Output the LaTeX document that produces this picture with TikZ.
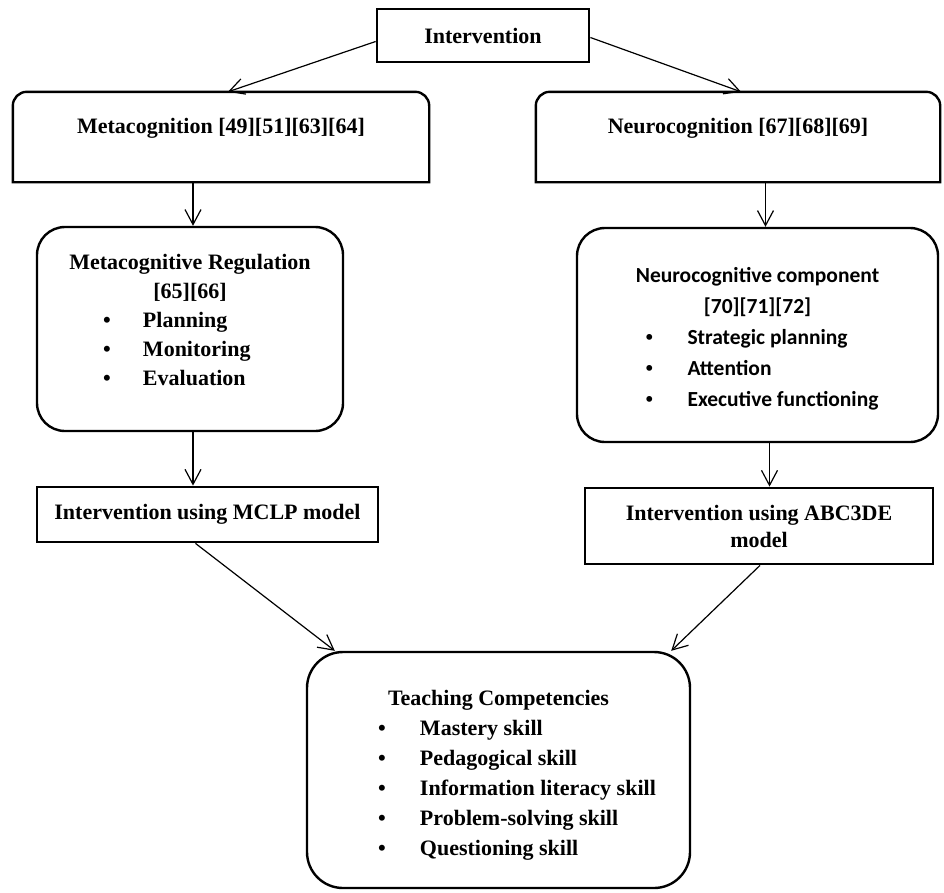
\documentclass[tikz,border=0pt]{standalone}
\usepackage{fontspec}
\setmainfont{Liberation Serif}
\newfontfamily\calib{Carlito}
\usetikzlibrary{arrows.meta}
\newcommand{\shiftup}[2]{\raisebox{#1}[\height][\depth]{#2}}
\newcommand{\bul}[3]{\makebox[#1][l]{\makebox[#2][l]{{\rmfamily\textbullet}}#3}}
\begin{document}
\begin{tikzpicture}[x=1pt,y=1pt,
  rectbox/.style={draw, line width=2.8pt, inner sep=0pt},
  rbox/.style={draw, line width=2.4pt, rounded corners=#1, inner sep=0pt},
  topline/.style={line width=2.4pt},
  arr/.style={line width=1.2pt, -{Straight Barb[length=15pt,width=16pt]}},
  tnr/.style={font=\fontsize{22}{29}\selectfont\bfseries},
]
\useasboundingbox (0,0) rectangle (944,-892);

% top
\node[rectbox, tnr, minimum width=212pt, minimum height=53pt] (intv) at (483,-35.5) {Intervention};

\node[tnr, minimum width=416pt, minimum height=90pt, inner sep=0pt] (meta) at (221,-137) {\shiftup{9pt}{Metacognition [49][51][63][64]}};
\draw[topline] (meta.south west) -- ([yshift=-14pt]meta.north west) arc[start angle=180,end angle=90,radius=14pt] -- ([xshift=-14pt]meta.north east) arc[start angle=90,end angle=0,radius=14pt] -- (meta.south east) -- cycle;

\node[tnr, minimum width=404pt, minimum height=90pt, inner sep=0pt] (neuro) at (738,-137) {\shiftup{9pt}{Neurocognition [67][68][69]}};
\draw[topline] (neuro.south west) -- ([yshift=-14pt]neuro.north west) arc[start angle=180,end angle=90,radius=14pt] -- ([xshift=-14pt]neuro.north east) arc[start angle=90,end angle=0,radius=14pt] -- (neuro.south east) -- cycle;

% middle
\node[rbox=28pt, tnr, minimum width=306pt, minimum height=204pt] (metareg) at (190,-329) {\shiftup{7pt}{\begin{tabular}{@{}c@{}}Metacognitive Regulation\\ {[65][66]}\\ \bul{174pt}{40pt}{Planning}\\ \bul{174pt}{40pt}{Monitoring}\\ \bul{174pt}{40pt}{Evaluation}\end{tabular}}};

\node[rbox=28pt, font=\calib\fontsize{21.5}{31}\selectfont\bfseries, minimum width=361pt, minimum height=214pt] (ncomp) at (757.5,-335) {\shiftup{-3pt}{\begin{tabular}{@{}c@{}}Neurocognitive component\\ {[70][71][72]}\\ \bul{224pt}{42pt}{Strategic planning}\\ \bul{224pt}{42pt}{Attention}\\ \bul{224pt}{42pt}{Executive functioning}\end{tabular}}};

\node[rectbox, tnr, minimum width=341pt, minimum height=55pt] (mclp) at (207.5,-514.5) {Intervention using MCLP model};
\node[rectbox, font=\fontsize{22}{27}\selectfont\bfseries, align=center, minimum width=348pt, minimum height=76pt] (abc) at (759,-526) {Intervention using ABC3DE\\model};

% bottom
\node[rbox=36pt, font=\fontsize{22}{30}\selectfont\bfseries, minimum width=383pt, minimum height=236pt] (teach) at (498.5,-770) {\shiftup{-4pt}{\begin{tabular}{@{}c@{}}Teaching Competencies\\ \bul{241pt}{42pt}{Mastery skill}\\ \bul{241pt}{42pt}{Pedagogical skill}\\ \bul{241pt}{42pt}{Information literacy skill}\\ \bul{241pt}{42pt}{Problem-solving skill}\\ \bul{241pt}{42pt}{Questioning skill}\end{tabular}}};

% connectors
\draw[arr] ([yshift=-6pt]intv.west) -- ([xshift=7pt]meta.north);
\draw[arr] ([yshift=-2pt]intv.east) -- ([xshift=3pt]neuro.north);
\draw[arr] ([xshift=3pt]metareg.north |- meta.south) -- ([xshift=3pt]metareg.north);
\draw[arr] ([xshift=8pt]ncomp.north |- neuro.south) -- ([xshift=8pt]ncomp.north);
\draw[arr] ([xshift=3pt]metareg.south) -- ([xshift=3pt]metareg.south |- mclp.north);
\draw[arr] ([xshift=12pt]ncomp.south) -- ([xshift=12pt]ncomp.south |- abc.north);
\draw[arr] ([xshift=-12pt]mclp.south) -- ([xshift=29pt]teach.north west);
\draw[arr] ([xshift=1pt]abc.south) -- ([xshift=-20pt]teach.north east);
\end{tikzpicture}
\end{document}
